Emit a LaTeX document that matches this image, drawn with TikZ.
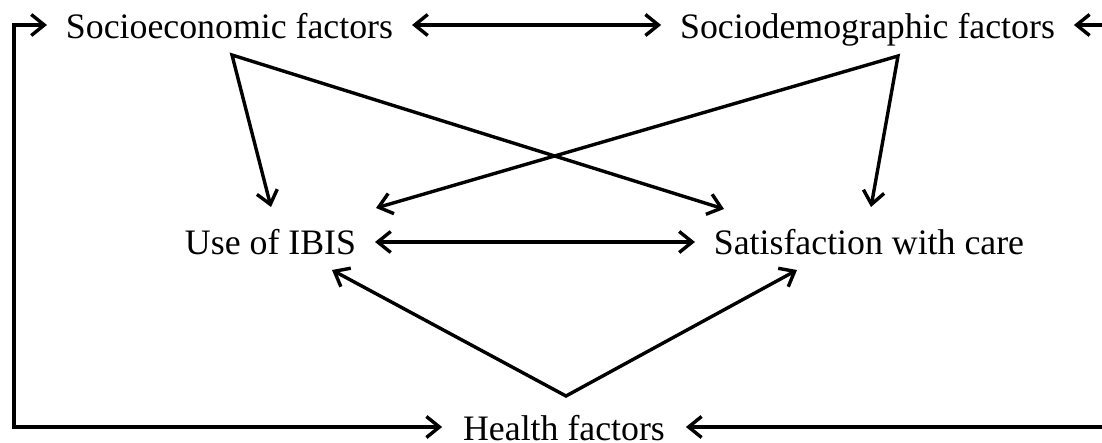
\documentclass[tikz,border=0pt]{standalone}
\usepackage{fontspec}
\setmainfont{Liberation Serif}
\usetikzlibrary{arrows.meta}
\tikzset{
  lbl/.style={anchor=base, inner sep=0pt, outer xsep=19pt, outer ysep=0pt,
              font=\fontsize{35.8}{40}\selectfont},
  >={Straight Barb[length=13pt,width=21pt]},
  link/.style={line width=3.4pt, line join=miter, <->},
  onelink/.style={line width=3.4pt, ->},
}
\begin{document}
\begin{tikzpicture}[x=1pt,y=-1pt]
\useasboundingbox (0,0) rectangle (1102,443);
% texts
\node[lbl] (se) at (229.5,39) {Socioeconomic factors};
\node[lbl] (sd) at (867.5,39) {Sociodemographic factors};
\node[lbl] (ui) at (270.5,255) {Use of IBIS};
\node[lbl] (sc) at (869,255) {Satisfaction with care};
\node[lbl, outer xsep=21pt] (hf) at (564,440) {Health factors};
% levels and attach points
\coordinate (ytop) at (0,25);
\coordinate (ymid) at (0,242);
\coordinate (ybot) at (0,427);
\coordinate (xleft) at (14,0);
\coordinate (redgeT) at (1102,25);
\coordinate (redgeB) at (1102,427);
\coordinate (seA) at (232,55);
\coordinate (sdA) at (898,56);
\coordinate (hfA) at (566,396);
\coordinate (uiA) at (271,207);
\coordinate (uiB) at (376,208);
\coordinate (uiC) at (332,270);
\coordinate (scA) at (724,209);
\coordinate (scB) at (871,207);
\coordinate (scC) at (797,270);
% connectors
\draw[link] (se.west |- ytop) -- (xleft |- ytop) -- (xleft |- ybot) -- (hf.west |- ybot);
\draw[link] (se.east |- ytop) -- (sd.west |- ytop);
\draw[onelink] (redgeT) -- (sd.east |- ytop);
\draw[onelink] (redgeB) -- (hf.east |- ybot);
\draw[link] (ui.east |- ymid) -- (sc.west |- ymid);
\draw[link] (uiA) -- (seA) -- (scA);
\draw[link] (uiB) -- (sdA) -- (scB);
\draw[link] (uiC) -- (hfA) -- (scC);
\end{tikzpicture}
\end{document}
